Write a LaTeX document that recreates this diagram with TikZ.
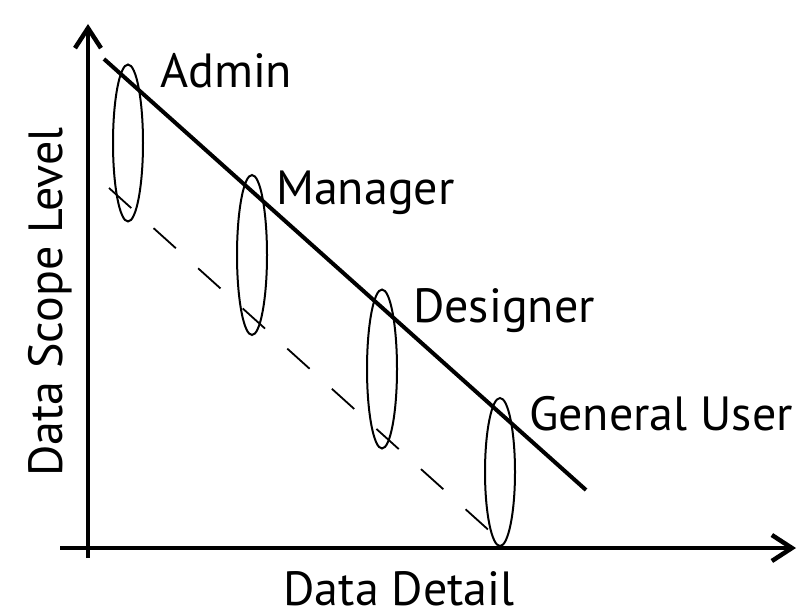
\documentclass[tikz,border=0pt]{standalone}
\usepackage{fontspec}
\setmainfont{PT Sans}
\usetikzlibrary{shapes.geometric,arrows.meta}
\begin{document}
\begin{tikzpicture}[x=1pt,y=-1pt,
  axis/.style={line width=4.5pt,-{Straight Barb[length=20pt,width=26pt,line width=4.5pt]}},
  trend/.style={line width=4pt},
  lower/.style={line width=1.8pt,dash pattern=on 30pt off 30pt},
  group/.style={draw,ellipse,line width=2pt,inner sep=0pt,minimum width=30pt},
  lbl/.style={anchor=base west,inner sep=0pt,font=\fontsize{48}{52}\selectfont}]
\useasboundingbox (0,0) rectangle (797,612);
% axes
\coordinate (yb) at (88,558);
\coordinate (yt) at (88,24);
\coordinate (xl) at (60,548);
\coordinate (xr) at (796,548);
\draw[axis] (yb) -- (yt);
\draw[axis] (xl) -- (xr);
% role groups
\node[group,minimum height=157pt] (e1) at (128,143) {};
\node[group,minimum height=160pt] (e2) at (252,255) {};
\node[group,minimum height=159pt] (e3) at (382,369) {};
\node[group,minimum height=148pt] (e4) at (500,472) {};
% trend lines
\coordinate (s1) at (104,59);
\coordinate (s2) at (586,490);
\draw[trend] (s1) -- (s2);
\coordinate (d1) at (109,188);
\coordinate (d2) at (503,543);
\draw[lower] (d1) -- (d2);
% labels
\node[lbl] (ladmin) at (160,88) {Admin};
\node[lbl] (lman) at (276,205) {Manager};
\node[lbl] (ldes) at (413,322) {Designer};
\node[lbl] (lgen) at (529,430) {General User};
\node[lbl,anchor=base] (lx) at (399,605) {Data Detail};
\node[lbl,anchor=base,rotate=90] (ly) at (62,302) {Data Scope Level};
\end{tikzpicture}
\end{document}
